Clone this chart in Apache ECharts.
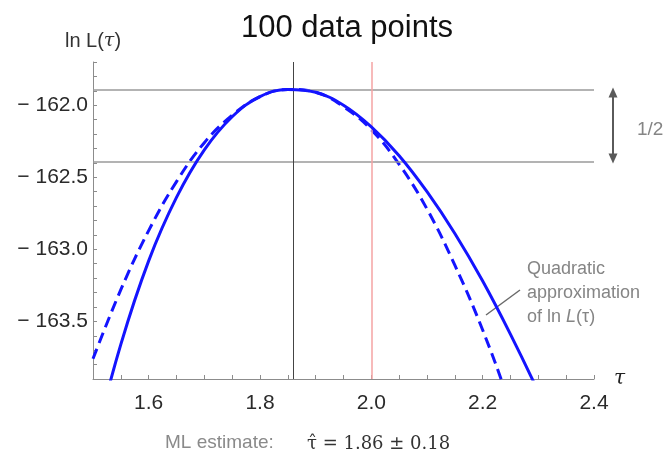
<!DOCTYPE html>
<html>
<head>
<meta charset="utf-8">
<title>ln L(tau)</title>
<script src="https://cdn.jsdelivr.net/npm/echarts@6/dist/echarts.min.js"></script>
<style>
html, body { margin: 0; padding: 0; background: #fff; }
#chart { width: 668px; height: 457px; }
</style>
</head>
<body>
<div id="chart"></div>
<script>
// values
var tau = [1.50, 1.55, 1.60, 1.65, 1.70, 1.75, 1.80, 1.85, 1.90, 1.95,
           2.00, 2.05, 2.10, 2.15, 2.20, 2.25, 2.30, 2.35, 2.40];
var lnL = [-164.38, -163.66, -163.08, -162.64, -162.31, -162.08, -161.94, -161.89, -161.91, -162.00,
           -162.15, -162.35, -162.60, -162.89, -163.22, -163.59, -163.99, -164.42, -164.88];
var lnLQuad = [-163.76, -163.28, -162.87, -162.53, -162.26, -162.07, -161.94, -161.89, -161.91, -162.01,
               -162.17, -162.41, -162.72, -163.11, -163.56, -164.09, -164.69, -165.36, -166.10];

var tauHat = 1.86;     // ML estimate (black line)
var tauTrue = 2.0;     // red line
var lnLMax = -161.89;  // top grey line
var lnLHalf = -162.39; // lnLMax - 1/2

var xTickLabels = [1.6, 1.8, 2.0, 2.2, 2.4];
var yTickLabels = [-162.0, -162.5, -163.0, -163.5];

function inList(v, list) {
	for (var i = 0; i < list.length; i++) {
		if (Math.abs(v - list[i]) < 1e-6) return true;
	}
	return false;
}

function pairs(xs, ys) {
	var out = [];
	for (var i = 0; i < xs.length; i++) out.push([xs[i], ys[i]]);
	return out;
}

var axisGrey = '#8c8c8c';
var blue = '#1414ff';

var myChart = echarts.init(document.getElementById('chart'));

var option = {
	animation: false,
	title: {
		text: '100 data points',
		left: 236,
		top: 8,
		textStyle: {
			fontFamily: 'Liberation Sans',
			fontWeight: 'normal',
			fontSize: 31,
			color: '#111'
		}
	},
	grid: {
		left: 93,
		right: 74,
		top: 62,
		bottom: 78
	},
	xAxis: {
		type: 'value',
		min: 1.5,
		max: 2.4,
		interval: 0.05,
		name: 'τ',
		nameLocation: 'end',
		nameGap: 20,
		nameTextStyle: {
			fontFamily: 'DejaVu Serif',
			fontStyle: 'italic',
			fontSize: 20,
			color: '#222',
			padding: [0, 0, 8, 0]
		},
		axisLine: { lineStyle: { color: axisGrey, width: 1 } },
		axisTick: { inside: true, length: 4, lineStyle: { color: axisGrey } },
		splitLine: { show: false },
		axisLabel: {
			margin: 14,
			fontFamily: 'Liberation Sans',
			fontSize: 21,
			color: '#2a2a2a',
			formatter: function (v) {
				return inList(v, xTickLabels) ? v.toFixed(1) : '';
			}
		}
	},
	yAxis: {
		type: 'value',
		min: -163.9,
		max: -161.7,
		interval: 0.1,
		name: 'ln L({i|τ})',
		nameLocation: 'end',
		nameGap: 11,
		nameTextStyle: {
			fontFamily: 'Liberation Sans',
			fontSize: 20,
			color: '#333',
			rich: {
				i: { fontFamily: 'DejaVu Serif', fontStyle: 'italic', fontSize: 19, color: '#333' }
			}
		},
		axisLine: { lineStyle: { color: axisGrey, width: 1 } },
		axisTick: { inside: true, length: 4, lineStyle: { color: axisGrey } },
		splitLine: { show: false },
		axisLabel: {
			margin: 5,
			fontFamily: 'Liberation Sans',
			fontSize: 21,
			color: '#2a2a2a',
			formatter: function (v) {
				return inList(v, yTickLabels) ? '\u2212 ' + Math.abs(v).toFixed(1) : '';
			}
		}
	},
	series: [
		{
			name: 'ln L',
			type: 'line',
			data: pairs(tau, lnL),
			showSymbol: false,
			smooth: 0.4,
			clip: true,
			lineStyle: { color: blue, width: 3 },
			z: 5,
			markLine: {
				silent: true,
				symbol: 'none',
				label: { show: false },
				data: [
					{ yAxis: lnLMax, lineStyle: { color: '#9a9a9a', width: 1.5, type: 'solid' } },
					{ yAxis: lnLHalf, lineStyle: { color: '#9a9a9a', width: 1.5, type: 'solid' } },
					{ xAxis: tauHat, lineStyle: { color: '#444', width: 1, type: 'solid' } },
					{ xAxis: tauTrue, lineStyle: { color: '#f4a3a3', width: 1.5, type: 'solid' } }
				]
			}
		},
		{
			name: 'quadratic',
			type: 'line',
			data: pairs(tau, lnLQuad),
			showSymbol: false,
			smooth: 0.4,
			clip: true,
			lineStyle: { color: blue, width: 3, type: [11, 6] },
			z: 4
		}
	]
};

myChart.setOption(option);

// annotations placed from the axis scales
var xArrow = 613;
var pTop = myChart.convertToPixel({ gridIndex: 0 }, [2.4, lnLMax]);
var pBot = myChart.convertToPixel({ gridIndex: 0 }, [2.4, lnLHalf]);
var arrowGrey = '#5a5a5a';
var noteGrey = '#858585';

myChart.setOption({
	graphic: [
		{
			type: 'line',
			shape: { x1: xArrow, y1: pTop[1] + 4, x2: xArrow, y2: pBot[1] - 4 },
			style: { stroke: arrowGrey, lineWidth: 2 },
			silent: true
		},
		{
			type: 'polygon',
			shape: { points: [[xArrow, pTop[1] - 2], [xArrow - 4.5, pTop[1] + 8], [xArrow + 4.5, pTop[1] + 8]] },
			style: { fill: arrowGrey },
			silent: true
		},
		{
			type: 'polygon',
			shape: { points: [[xArrow, pBot[1] + 2], [xArrow - 4.5, pBot[1] - 8], [xArrow + 4.5, pBot[1] - 8]] },
			style: { fill: arrowGrey },
			silent: true
		},
		{
			type: 'text',
			left: 637,
			top: (pTop[1] + pBot[1]) / 2 - 5,
			style: {
				text: '1/2',
				fontFamily: 'Liberation Sans',
				fontSize: 19,
				fill: noteGrey
			},
			silent: true
		},
		{
			type: 'text',
			left: 527,
			top: 257,
			style: {
				text: 'Quadratic\napproximation\nof ln {i|L}(τ)',
				fontFamily: 'Liberation Sans',
				fontSize: 18,
				lineHeight: 24,
				fill: noteGrey,
				rich: {
					i: { fontFamily: 'Liberation Sans', fontStyle: 'italic', fontSize: 18, fill: noteGrey }
				}
			},
			silent: true
		},
		{
			type: 'line',
			shape: { x1: 520, y1: 290, x2: 486, y2: 315 },
			style: { stroke: '#6a6a6a', lineWidth: 1.5 },
			silent: true
		},
		{
			type: 'text',
			left: 165,
			top: 433,
			style: {
				text: 'ML estimate:',
				fontFamily: 'Liberation Sans',
				fontSize: 19,
				fill: '#8a8a8a'
			},
			silent: true
		},
		{
			type: 'text',
			left: 307,
			top: 435,
			style: {
				text: 'τ̂ = 1.86 ± 0.18',
				fontFamily: 'DejaVu Serif',
				fontSize: 18,
				fill: '#333'
			},
			silent: true
		}
	]
});
</script>
</body>
</html>
